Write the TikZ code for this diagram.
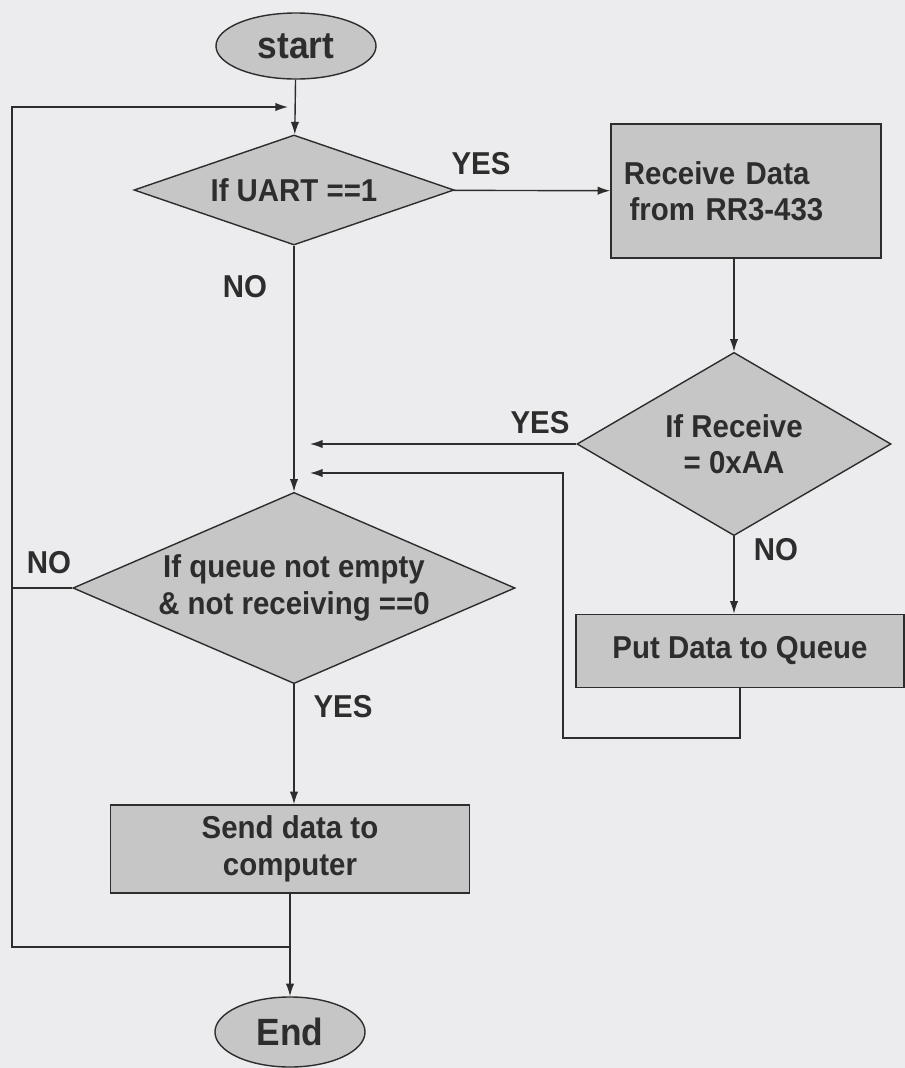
\documentclass[tikz,border=0pt]{standalone}
\usepackage{fontspec}
\setmainfont{Liberation Sans}[FakeStretch=0.93]
\usetikzlibrary{shapes.geometric, arrows.meta, positioning}
\definecolor{boxgray}{RGB}{198,198,198}
\definecolor{paper}{RGB}{236,236,238}
\definecolor{inkgray}{RGB}{45,45,45}

\begin{document}
\begin{tikzpicture}[
    x=0.025cm, y=-0.025cm,
    every node/.style={font=\fontsize{22.5}{26}\selectfont\bfseries, text=inkgray},
    terminal/.style={draw=inkgray, ellipse, fill=boxgray, line width=1pt, inner sep=0pt,
                     font=\fontsize{27}{30}\selectfont\bfseries},
    decision/.style={draw=inkgray, diamond, fill=boxgray, line width=1pt, inner sep=0pt, align=center},
    process/.style={draw=inkgray, rectangle, fill=boxgray, line width=1pt, align=center},
    answer/.style={inner sep=0pt},
    flow/.style={draw=inkgray, line width=1pt},
    flowarrow/.style={flow, -{Latex[length=9pt, width=6pt]}}
]
    \fill[paper] (0,0) rectangle (905,1068);
    \useasboundingbox (0,0) rectangle (905,1068);

    % main column
    \node[terminal, minimum width=4cm, minimum height=1.65cm] (start) at (296,46) {start};
    \node[decision, aspect=2.9, minimum width=8cm, minimum height=2.75cm] (uart) at (294,190)
        {If UART ==1};
    \node[decision, aspect=2.3, minimum width=11.05cm, minimum height=4.78cm] (ready) at (294,588)
        {If queue not empty\\\& not receiving ==0};
    \node[process, minimum width=8.98cm, minimum height=2.2cm] (send) at (290,849)
        {Send data to\\computer};
    \node[terminal, minimum width=3.75cm, minimum height=1.75cm] (end) at (290,1032) {End};

    % right column
    \node[process, minimum width=6.75cm, minimum height=3.35cm, text width=6.1cm, align=left]
        (recv) at (746,191) {Receive Data\\\hspace{4pt}from RR3-433};
    \node[decision, aspect=1.7, minimum width=7.85cm, minimum height=4.58cm] (check) at (734,444)
        {If Receive\\= 0xAA};
    \node[process, minimum width=8.2cm, minimum height=1.83cm] (queue) at (740,651)
        {Put Data to Queue};

    % answers
    \node[answer] (uartyes) at (481,164) {YES};
    \node[answer] (uartno) at (245,287) {NO};
    \node[answer] (checkyes) at (540,423) {YES};
    \node[answer] (checkno) at (776,550) {NO};
    \node[answer] (readyno) at (49,563) {NO};
    \node[answer] (readyyes) at (343,707) {YES};

    % joints
    \coordinate (loopin) at (288,107);
    \coordinate (loopnw) at (12,107);
    \coordinate (loopsw) at (12,947);
    \coordinate (loopse) at (290,947);
    \coordinate (yesin) at (310,444);
    \coordinate (backin) at (310,473);
    \coordinate (backsw) at (563,738);

    \draw[flowarrow] (start) -- (uart);
    \draw[flowarrow] (uart) -- (recv);
    \draw[flowarrow] (uart) -- (ready);
    \draw[flowarrow] (recv.south -| check.north) -- (check);
    \draw[flowarrow] (check) -- (yesin);
    \draw[flowarrow] (check.south) -- (check.south |- queue.north);
    \draw[flowarrow] (queue.south) |- (backsw) -- (backsw |- backin) -- (backin);
    \draw[flowarrow] (ready) -- (ready |- send.north);
    \draw[flowarrow] (send) -- (end);
    \draw[flow] (ready.west) -- (ready.west -| loopnw);
    \draw[flowarrow] (loopse) -- (loopsw) -- (loopnw) -- (loopin);
\end{tikzpicture}
\end{document}
